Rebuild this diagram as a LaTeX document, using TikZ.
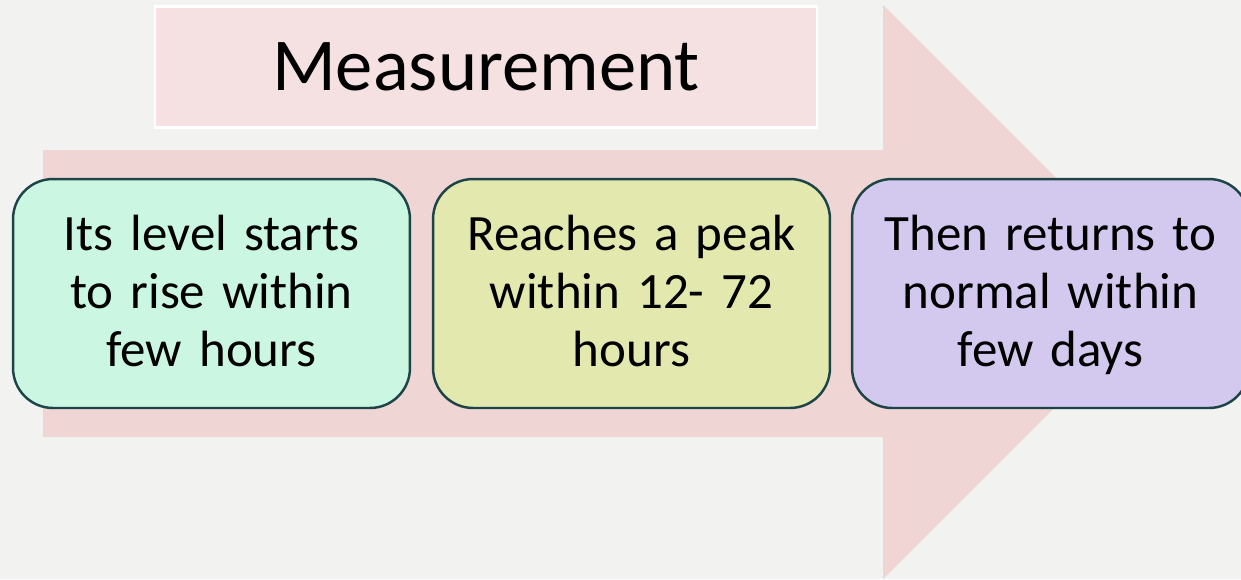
\documentclass[tikz,border=0pt]{standalone}
\usepackage{fontspec}
\setmainfont{Carlito}
\usetikzlibrary{positioning}

\definecolor{bgcol}{HTML}{F2F2F1}
\definecolor{arrowcol}{HTML}{F0D5D5}
\definecolor{titlecol}{HTML}{F5E1E1}
\definecolor{edgecol}{HTML}{1D4547}
\definecolor{risecol}{HTML}{CBF7E2}
\definecolor{peakcol}{HTML}{E2E8AE}
\definecolor{normalcol}{HTML}{D3C9EE}

\begin{document}
\begin{tikzpicture}[x=0.02cm, y=-0.02cm,
	stagebox/.style={draw=edgecol, line width=1.4pt, rounded corners=0.8cm,
		minimum width=7.94cm, minimum height=4.58cm, text width=7.8cm,
		align=center, inner sep=0pt, font=\fontsize{29}{33}\selectfont,
		execute at begin node={\rule{0pt}{27pt}}, execute at end node=\strut}]
	% 背景与画布范围
	\fill[bgcol] (0,0) rectangle (1241,579);
	\clip (0,0) rectangle (1241,579);
	
	% 大箭头：箭杆 + 箭头
	\fill[arrowcol] (43,150) -- (883,150) -- (883,5) -- (1170,292)
		-- (883,579) -- (883,437) -- (43,437) -- cycle;
	
	% 标题框
	\node[fill=titlecol, draw=white, line width=1.2pt, minimum width=13.24cm,
		minimum height=2.42cm, font=\fontsize{42.5}{50}\selectfont] (title)
		at (486,67) {Measurement};
	
	% 三个阶段
	\node[stagebox, fill=risecol] (rise) at (211.5,293.5)
		{Its level starts\\to rise within\\few hours};
	\node[stagebox, fill=peakcol] (peak) at (631.5,293.5)
		{Reaches a peak\\within 12- 72\\hours};
	\node[stagebox, fill=normalcol] (normal) at (1050.5,293.5)
		{Then returns to\\normal within\\few days};
\end{tikzpicture}
\end{document}
